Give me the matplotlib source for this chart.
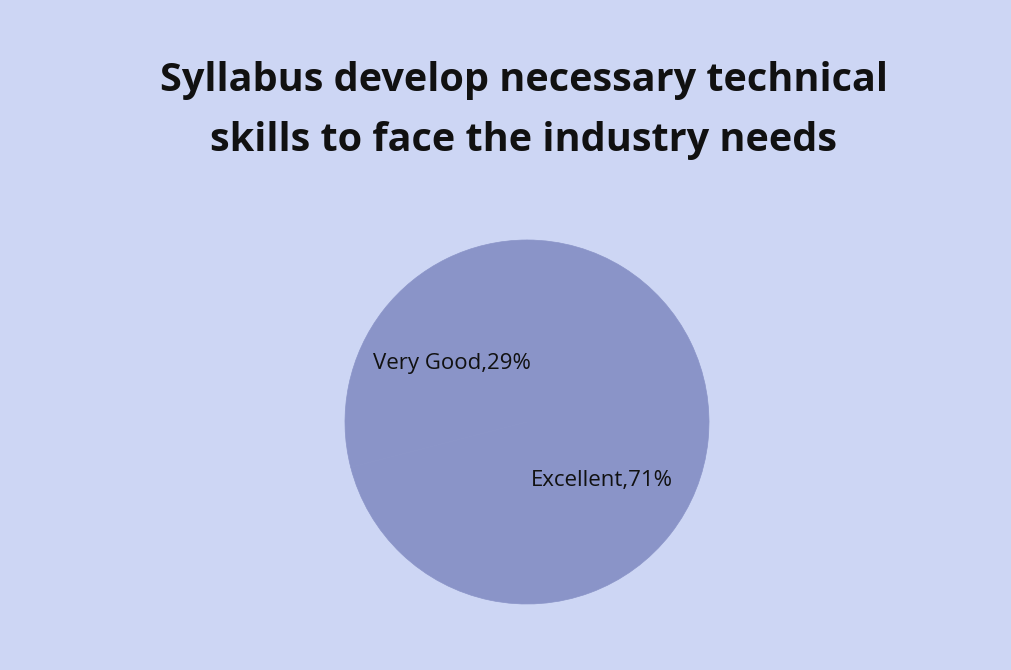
import matplotlib.pyplot as plt

# data
labels = ["Excellent", "Very Good"]
values = [71, 29]
title = "Syllabus develop necessary technical\nskills to face the industry needs"

bg = '#cdd6f4'
pie_col = '#8a94c8'

fig = plt.figure(figsize=(10.11, 6.70), dpi=100)
fig.patch.set_facecolor(bg)

# pie area: centre ~ (527, 422) px, radius ~ 182 px
ax = fig.add_axes([(527 - 182) / 1011, (670 - 422 - 182) / 670, 364 / 1011, 364 / 670])
ax.set_facecolor(bg)

names = iter(labels)
def lab(pct):
    return "%s,%d%%" % (next(names), round(pct))

wedges, texts, autotexts = ax.pie(values, startangle=90, counterclock=False,
                                  colors=[pie_col, pie_col],
                                  wedgeprops=dict(edgecolor=pie_col, linewidth=0.5),
                                  autopct=lab, pctdistance=0.52,
                                  textprops=dict(fontsize=16, color='#111111', family='Open Sans'))
ax.set_xlim(-1, 1)
ax.set_ylim(-1, 1)
ax.set_aspect('equal')

fig.text(0.518, 0.835, title, ha='center', va='center', fontsize=28.5,
         fontweight='bold', family='Open Sans', color='#111111', linespacing=1.7)

fig.savefig('out.png', dpi=100, facecolor=bg)
